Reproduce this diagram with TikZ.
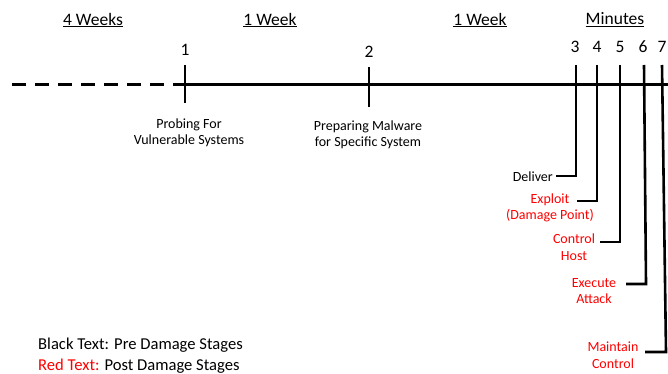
\documentclass[tikz,border=0pt]{standalone}
\usepackage{fontspec}
\setmainfont{Carlito}
\definecolor{postred}{RGB}{255,0,0}
\begin{document}
\begin{tikzpicture}[x=1pt,y=-1pt,
  axis/.style={line width=3pt},
  tick/.style={line width=2.6pt},
  lead/.style={line width=2.6pt},
  period/.style={font=\fontsize{17.5}{20}\selectfont},
  num/.style={font=\fontsize{17.5}{20}\selectfont},
  stage/.style={font=\fontsize{14}{16.5}\selectfont, align=center},
  post/.style={stage, text=postred},
  legend/.style={font=\fontsize{16.6}{21}\selectfont, anchor=west, inner sep=0pt}]
\useasboundingbox (0,0) rectangle (668,374);

% time axis
\coordinate (start) at (12,85);
\coordinate (p1) at (185,85);
\coordinate (end) at (668,85);
\draw[axis, dash pattern=on 14pt off 9pt] (start) -- (p1);
\draw[axis] (p1) -- (end);

% period headings
\node[period] (h1) at (93,20) {\underline{4 Weeks}};
\node[period] (h2) at (270,20) {\underline{1 Week}};
\node[period] (h3) at (480,20) {\underline{1 Week}};
\node[period] (h4) at (615,20) {\underline{Minutes}};

% early stages
\coordinate (t1a) at (185,65);  \coordinate (t1b) at (185,103);
\coordinate (t2a) at (369,67);  \coordinate (t2b) at (369,107);
\draw[tick] (t1a) -- (t1b);
\draw[tick] (t2a) -- (t2b);
\node[num] (n1) at (185,50) {1};
\node[num] (n2) at (369,52) {2};
\node[stage] (s1) at (189,133) {Probing For\\Vulnerable Systems};
\node[stage] (s2) at (368,135) {Preparing Malware\\for Specific System};

% final stages
\node[num] (n3) at (575,47) {3};
\node[num] (n4) at (597,47) {4};
\node[num] (n5) at (620,47) {5};
\node[num] (n6) at (643,47) {6};
\node[num] (n7) at (662,47) {7};

\coordinate (t3) at (576,65);
\coordinate (t4) at (597,65);
\coordinate (t5) at (620,65);
\coordinate (t6) at (644,65);
\coordinate (t7) at (662,65);

\coordinate (e3) at (556,176);
\coordinate (e4) at (577,201);
\coordinate (e5) at (600,242);
\coordinate (e6) at (626,284);
\coordinate (e7) at (645,352);

\node[stage, anchor=east, inner sep=1pt] (deliver) at (554,177) {Deliver};
\node[post] (exploit) at (550,208) {Exploit\\(Damage Point)};
\node[post] (control) at (574,247) {Control\\Host};
\node[post] (execute) at (594,291) {Execute\\Attack};
\node[post] (maintain) at (613,355) {Maintain\\Control};

\draw[lead] (t3) -- (t3 |- e3) -- (e3);
\draw[lead] (t4) -- (t4 |- e4) -- (e4);
\draw[lead] (t5) -- (t5 |- e5) -- (e5);
\draw[lead] (t6) -- (646,284) -- (e6);
\draw[lead] (t7) -- (666,352) -- (e7);

% legend
\node[legend] (k1) at (38,345) {Black Text: Pre Damage Stages};
\node[legend] (k2) at (38,366) {\textcolor{postred}{Red Text:} Post Damage Stages};
\end{tikzpicture}
\end{document}
